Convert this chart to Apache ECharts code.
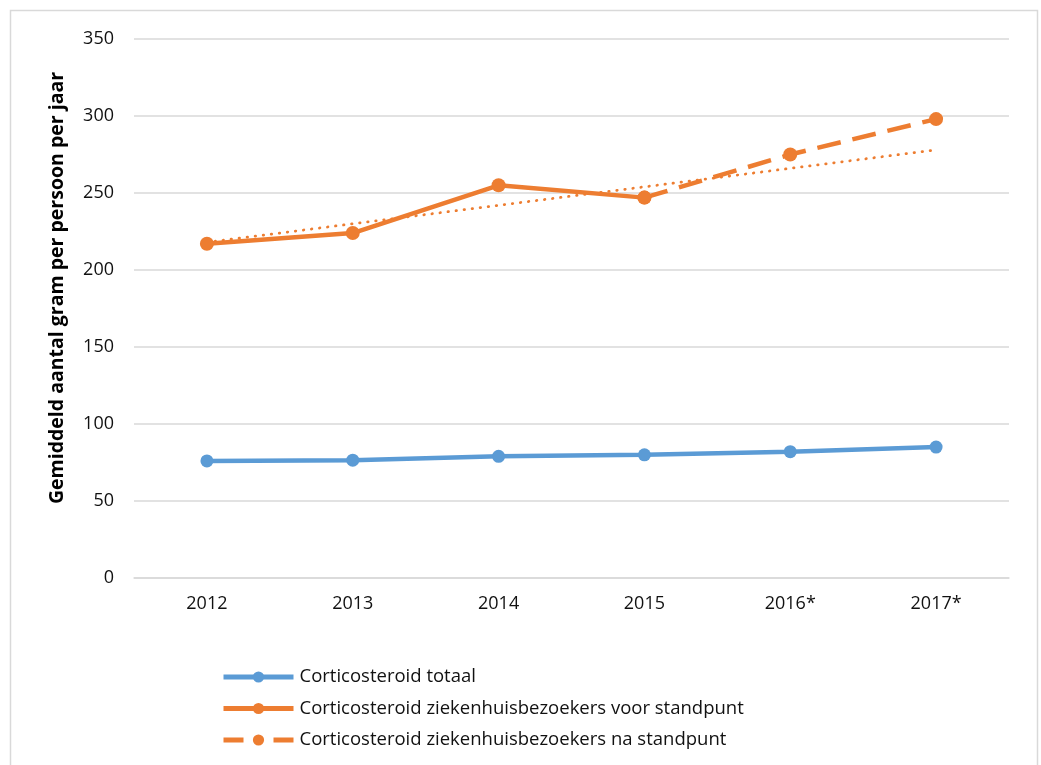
<!DOCTYPE html>
<html>
<head>
<meta charset="utf-8">
<script src="https://cdn.jsdelivr.net/npm/echarts@6/dist/echarts.min.js"></script>
<style>
html,body{margin:0;padding:0;background:#fff;}
#chart{width:1041px;height:765px;}
</style>
</head>
<body>
<div id="chart"></div>
<script>
var categories = ['2012', '2013', '2014', '2015', '2016*', '2017*'];
var totaal = [76, 76.5, 79, 80, 82, 85];
var voorStandpunt = [217, 224, 255, 247, null, null];
var naStandpunt = [null, null, null, 247, 275, 298];
// Linear trendline (as drawn in the picture): endpoints
var trendCategories = ['2012', '2017*'];
var trendValues = [218, 278];
var yTicks = [0, 50, 100, 150, 200, 250, 300, 350];

var seriesNames = [
  'Corticosteroid totaal',
  'Corticosteroid ziekenhuisbezoekers voor standpunt',
  'Corticosteroid ziekenhuisbezoekers na standpunt'
];
var BLUE = '#5B9BD5', ORANGE = '#ED7D31';
var FONT = 'Open Sans';

var chart = echarts.init(document.getElementById('chart'), null, {renderer: 'canvas'});
chart.setOption({
  animation: false,
  backgroundColor: '#fff',
  textStyle: {fontFamily: FONT},
  grid: {left: 134, right: 32, top: 39, bottom: 187, containLabel: false},
  graphic: [
    {type: 'rect', shape: {x: 10.5, y: 10.5, width: 1027, height: 800},
     style: {fill: 'none', stroke: '#d9d9d9', lineWidth: 1.5}, silent: true, z: -1},
    {type: 'text', x: 57, y: 288, rotation: Math.PI / 2,
     style: {text: 'Gemiddeld aantal gram per persoon per jaar', fill: '#000',
             font: 'bold 19.5px "' + FONT + '"', textAlign: 'center', textVerticalAlign: 'middle'}}
  ],
  xAxis: {
    type: 'category',
    data: categories,
    boundaryGap: true,
    axisLine: {lineStyle: {color: '#d9d9d9', width: 1.5}},
    axisTick: {show: false},
    axisLabel: {color: '#111', fontSize: 18, margin: 17, fontFamily: FONT}
  },
  yAxis: {
    type: 'value',
    min: yTicks[0],
    max: yTicks[yTicks.length - 1],
    interval: 50,
    axisLine: {show: false},
    axisTick: {show: false},
    splitLine: {lineStyle: {color: '#d9d9d9', width: 1.5}},
    axisLabel: {color: '#111', fontSize: 18, margin: 20, fontFamily: FONT}
  },
  legend: {
    orient: 'vertical',
    left: 221,
    top: 667,
    padding: 0,
    itemWidth: 70,
    itemHeight: 14,
    itemGap: 11.5,
    data: [
      {name: seriesNames[0]},
      {name: seriesNames[1]},
      {name: seriesNames[2], lineStyle: {width: 5, type: [20, 30]}}
    ],
    lineStyle: {width: 5},
    textStyle: {fontSize: 18.5, color: '#111', lineHeight: 20, fontFamily: FONT, padding: [0,0,0,1]}
  },
  series: [
    {
      name: 'trend',
      type: 'line',
      data: trendCategories.map(function (c, i) { return [c, trendValues[i]]; }),
      symbol: 'none',
      lineStyle: {color: ORANGE, width: 2.75, type: [0.5, 7.6], cap: 'round'},
      z: 1,
      silent: true
    },
    {
      name: seriesNames[0],
      type: 'line',
      data: totaal,
      symbol: 'circle',
      symbolSize: 13,
      itemStyle: {color: BLUE},
      lineStyle: {color: BLUE, width: 4.5},
      z: 3
    },
    {
      name: seriesNames[1],
      type: 'line',
      data: voorStandpunt,
      symbol: 'circle',
      symbolSize: 14,
      itemStyle: {color: ORANGE},
      lineStyle: {color: ORANGE, width: 4.5},
      z: 3
    },
    {
      name: seriesNames[2],
      type: 'line',
      data: naStandpunt,
      symbol: 'circle',
      symbolSize: 14,
      itemStyle: {color: ORANGE},
      lineStyle: {color: ORANGE, width: 4.5, type: [24, 12]},
      z: 3
    }
  ]
});
</script>
</body>
</html>
